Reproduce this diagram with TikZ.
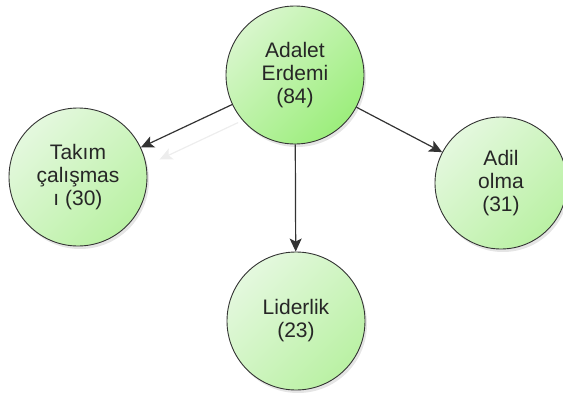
\documentclass[tikz,border=0pt]{standalone}
\usepackage{fontspec}
\setmainfont{Liberation Sans}
\usetikzlibrary{arrows.meta,shadows}
\definecolor{edgegray}{HTML}{333333}
\definecolor{textgray}{HTML}{262626}
\definecolor{maintop}{HTML}{D8F6CC}
\definecolor{mainbot}{HTML}{9CEE7C}
\definecolor{subtop}{HTML}{E4F8DE}
\definecolor{subbot}{HTML}{BAF1A4}
\begin{document}
\begin{tikzpicture}[x=1pt,y=-1pt,
  bubble/.style={circle, draw=edgegray, line width=0.9pt, minimum size=138pt,
    inner sep=0pt, align=center, font=\fontsize{21}{23}\selectfont, text=textgray,
    top color=subtop, bottom color=subbot, shading angle=45,
    drop shadow={shadow xshift=2pt, shadow yshift=-3pt, opacity=0.10, fill=black}},
  mainbubble/.style={bubble, top color=maintop, bottom color=mainbot, shading angle=45},
  link/.style={draw=edgegray, line width=1.2pt, -{Stealth[length=13pt,width=12pt,inset=3pt]}},
  ghostlink/.style={draw=black!7, line width=1.2pt, -{Stealth[length=13pt,width=12pt,inset=3pt]}}]
\useasboundingbox (0,0) rectangle (563,394);
\node[mainbubble] (adalet) at (295,75) {Adalet\\Erdemi\\(84)};
\node[bubble] (takim) at (78,177) {Takım\\çalışmas\\ı (30)};
\node[bubble, minimum size=132pt] (adil) at (501,183) {Adil\\olma\\(31)};
\node[bubble] (lider) at (296,321) {Liderlik\\(23)};
\draw[ghostlink, shorten >=14pt, transform canvas={xshift=6pt, yshift=-18pt}] (adalet) -- (takim);
\draw[link] (adalet) -- (takim);
\draw[link] (adalet) -- (adil);
\draw[link] (adalet) -- (lider);
\end{tikzpicture}
\end{document}
